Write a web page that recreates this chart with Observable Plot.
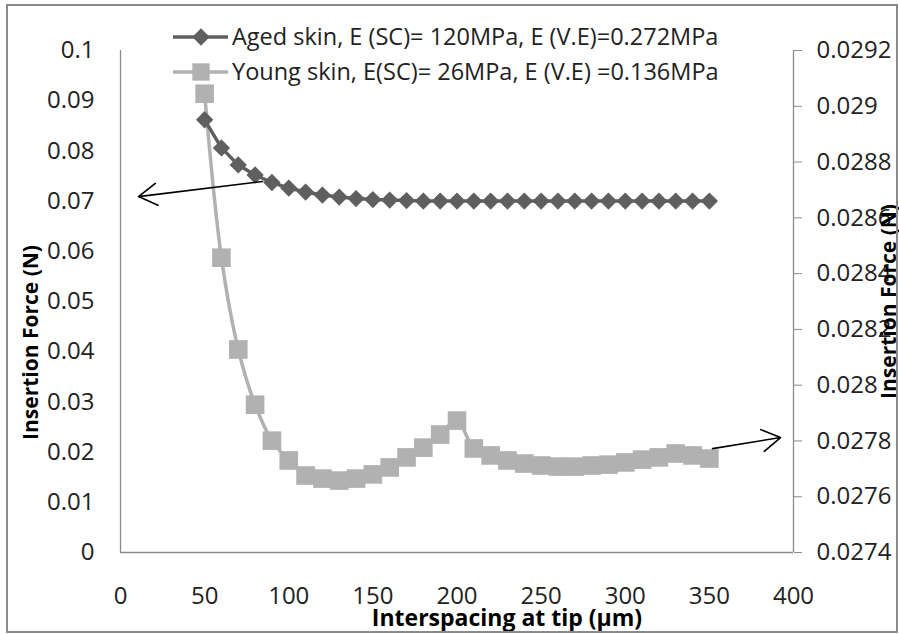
<!DOCTYPE html>
<html>
<head>
<meta charset="utf-8">
<script src="https://cdn.jsdelivr.net/npm/d3@7"></script>
<script src="https://cdn.jsdelivr.net/npm/@observablehq/plot@0.6"></script>
<style>
  body { margin: 0; background: #fff; }
  #wrap { position: relative; width: 899px; height: 634px; font-family: "Open Sans", sans-serif; }
  #overlay { position: absolute; left: 0; top: 0; pointer-events: none; }
</style>
</head>
<body>
<div id="wrap"></div>
<script>
// ---- data ----
const spacing = [50,60,70,80,90,100,110,120,130,140,150,160,170,180,190,200,210,220,230,240,250,260,270,280,290,300,310,320,330,340,350];
const agedForce = [0.0862,0.0806,0.0772,0.0752,0.0737,0.0726,0.0718,0.0712,0.0708,0.0705,0.0703,0.0702,0.0701,0.0700,0.0700,0.0700,0.0700,0.0700,0.0700,0.0700,0.0700,0.0700,0.0700,0.0700,0.0700,0.0700,0.0700,0.0700,0.0700,0.0700,0.0700];
const youngForce = [0.029045,0.028457,0.028128,0.027930,0.027801,0.027730,0.027676,0.027665,0.027658,0.027665,0.027680,0.027705,0.027741,0.027776,0.027823,0.027873,0.027773,0.027748,0.027730,0.027719,0.027712,0.027708,0.027708,0.027712,0.027715,0.027723,0.027733,0.027741,0.027755,0.027748,0.027737];
const seriesNames = ["Aged skin, E (SC)= 120MPa, E (V.E)=0.272MPa", "Young skin, E(SC)= 26MPa, E (V.E) =0.136MPa"];
const xTicks = [0,50,100,150,200,250,300,350,400];
const leftTicks = [0,0.01,0.02,0.03,0.04,0.05,0.06,0.07,0.08,0.09,0.1];
const rightTicks = [0.0274,0.0276,0.0278,0.028,0.0282,0.0284,0.0286,0.0288,0.029,0.0292];
const xTitle = "Interspacing at tip (µm)";
const yTitle = "Insertion Force (N)";
// annotation arrows (left-axis coordinates)
const arrowX1 = [84.4, 351.9];
const arrowY1 = [0.0739, 0.0207];
const arrowX2 = [10.7, 392.3];
const arrowY2 = [0.0709, 0.0229];

const leftMax = 0.1;
const rightMin = rightTicks[0], rightMax = rightTicks[rightTicks.length - 1];
const toLeft = v => (v - rightMin) / (rightMax - rightMin) * leftMax;
const fromLeft = d => rightMin + d / leftMax * (rightMax - rightMin);

const aged = spacing.map((x, i) => ({x, y: agedForce[i]}));
const young = spacing.map((x, i) => ({x, y: toLeft(youngForce[i])}));
const arrows = arrowX1.map((x, i) => ({x1: x, y1: arrowY1[i], x2: arrowX2[i], y2: arrowY2[i]}));

const agedColor = "#5f5f5f";
const youngColor = "#b1b1b1";
const axisColor = "#8a8a8a";
const textColor = "#222";

const chart = Plot.plot({
  width: 899,
  height: 634,
  marginLeft: 120,
  marginRight: 106,
  marginTop: 50,
  marginBottom: 82,
  style: {fontFamily: "Open Sans, sans-serif", fontSize: "24px", color: textColor, background: "transparent"},
  x: {domain: [0, 400]},
  y: {domain: [0, leftMax]},
  marks: [
    Plot.ruleX([0, 400], {stroke: axisColor, strokeWidth: 1.3}),
    Plot.ruleY([0], {stroke: axisColor, strokeWidth: 1.3}),
    Plot.axisX(xTicks, {tickSize: 0, tickPadding: 34, tickFormat: d => String(d), label: null, fontSize: 24, fill: textColor}),
    Plot.axisY(leftTicks, {anchor: "left", tickSize: 0, tickPadding: 26, tickFormat: d => String(+d.toFixed(2)), label: null, fontSize: 24, fill: textColor}),
    Plot.axisY(rightTicks.map(toLeft), {anchor: "right", tickSize: 8, tickPadding: 15, stroke: axisColor, tickFormat: d => String(+fromLeft(d).toFixed(4)), label: null, fontSize: 24, fill: textColor}),
    Plot.line(young, {x: "x", y: "y", stroke: youngColor, strokeWidth: 3.5, curve: "catmull-rom"}),
    Plot.dot(young, {x: "x", y: "y", symbol: "square", r: 10.5, fill: youngColor, stroke: null}),
    Plot.line(aged, {x: "x", y: "y", stroke: agedColor, strokeWidth: 3.5}),
    Plot.dot(aged, {x: "x", y: "y", symbol: "diamond2", r: 7.8, fill: agedColor, stroke: null}),
    Plot.arrow(arrows, {x1: "x1", y1: "y1", x2: "x2", y2: "y2", stroke: "#000", strokeWidth: 1.6, headLength: 20, headAngle: 62}),
    Plot.text([xTitle], {frameAnchor: "bottom", dx: 50, dy: 66, textAnchor: "middle", lineAnchor: "middle", fontWeight: "bold", fontSize: 23, fill: "#000"}),
    Plot.text([yTitle], {frameAnchor: "left", dx: -89, dy: 41, rotate: -90, textAnchor: "middle", lineAnchor: "middle", fontWeight: "bold", fontSize: 21, fill: "#000"}),
    Plot.text([yTitle], {frameAnchor: "right", dx: 96, rotate: -90, textAnchor: "middle", lineAnchor: "middle", fontWeight: "bold", fontSize: 21, fill: "#000"})
  ]
});

const wrap = document.getElementById("wrap");
wrap.appendChild(chart);

// overlay: chart-area border and legend
const ov = d3.select(wrap).append("svg").attr("id", "overlay").attr("width", 899).attr("height", 634);
ov.append("rect").attr("x", 7).attr("y", 5).attr("width", 890).attr("height", 627)
  .attr("fill", "none").attr("stroke", "#8a8a8a").attr("stroke-width", 2);
const legendRows = [
  {name: seriesNames[0], color: agedColor, sym: d3.symbolDiamond2, size: 190, y: 37},
  {name: seriesNames[1], color: youngColor, sym: d3.symbolSquare, size: 300, y: 72}
];
legendRows.forEach(r => {
  const g = ov.append("g");
  g.append("line").attr("x1", 173).attr("x2", 228).attr("y1", r.y).attr("y2", r.y)
    .attr("stroke", r.color).attr("stroke-width", 3.5);
  g.append("path").attr("d", d3.symbol(r.sym, r.size)()).attr("transform", `translate(201,${r.y})`).attr("fill", r.color);
  g.append("text").attr("x", 232).attr("y", r.y).attr("dy", "0.35em")
    .attr("font-family", "Open Sans, sans-serif").attr("font-size", 23.5).attr("fill", textColor).text(r.name);
});
</script>
</body>
</html>
